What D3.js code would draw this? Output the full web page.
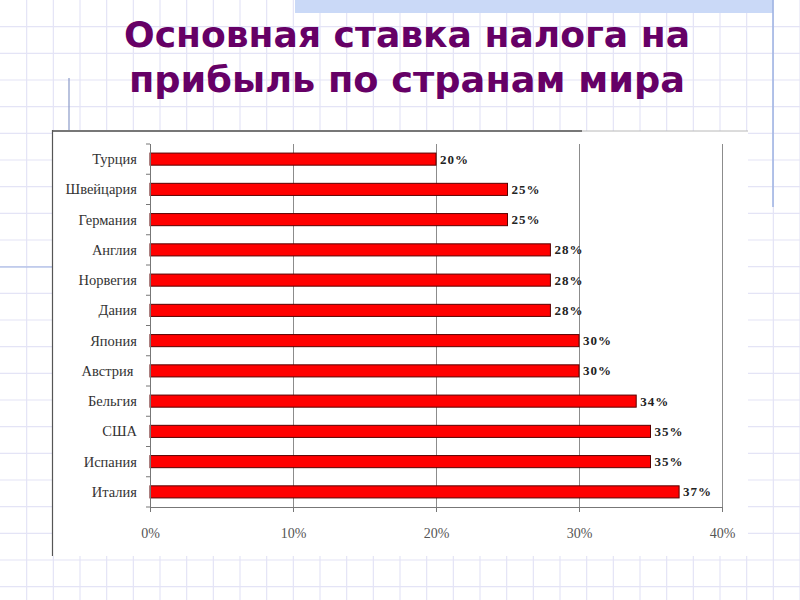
<!DOCTYPE html>
<html>
<head>
<meta charset="utf-8">
<script src="https://cdn.jsdelivr.net/npm/d3@7"></script>
<style>
  html, body { margin: 0; padding: 0; background: #fff; }
  svg { display: block; }
</style>
</head>
<body>
<svg id="chart" width="800" height="600"></svg>
<script>
// ---- data ----
const titleLines = ["Основная ставка налога на", "прибыль по странам мира"];
const countries = ["Турция", "Швейцария", "Германия", "Англия", "Норвегия", "Дания",
                   "Япония", "Австрия ", "Бельгия", "США", "Испания", "Италия"];
const rates = [0.20, 0.25, 0.25, 0.28, 0.28, 0.28, 0.30, 0.30, 0.34, 0.35, 0.35, 0.37];
const xTicks = [0, 0.1, 0.2, 0.3, 0.4];

const svg = d3.select("#chart");

// ---- slide background (grid paper) ----
const gridStep = 800 / 30;
const bg = svg.append("g");
bg.append("rect").attr("width", 800).attr("height", 600).attr("fill", "#ffffff");
bg.selectAll("line.gv").data(d3.range(1, 31)).join("line")
  .attr("x1", d => d * gridStep).attr("x2", d => d * gridStep)
  .attr("y1", 0).attr("y2", 600)
  .attr("stroke", "#e4e4f6").attr("stroke-width", 1.2);
bg.selectAll("line.gh").data(d3.range(1, 23)).join("line")
  .attr("y1", d => d * gridStep).attr("y2", d => d * gridStep)
  .attr("x1", 0).attr("x2", 800)
  .attr("stroke", "#e4e4f6").attr("stroke-width", 1.2);
// decorative slide elements
bg.append("rect").attr("x", 295).attr("y", 0).attr("width", 478).attr("height", 13).attr("fill", "#cad9f7");
bg.append("line").attr("x1", 773).attr("x2", 773).attr("y1", 0).attr("y2", 207)
  .attr("stroke", "#9db2e2").attr("stroke-width", 1.5);
bg.append("line").attr("x1", 0).attr("x2", 52).attr("y1", 267).attr("y2", 267)
  .attr("stroke", "#9db2e2").attr("stroke-width", 1.2);
bg.append("line").attr("x1", 69).attr("x2", 69).attr("y1", 78).attr("y2", 131)
  .attr("stroke", "#8a9ac8").attr("stroke-width", 1.2);

// ---- title ----
const title = svg.append("g");
title.selectAll("text").data(titleLines).join("text")
  .attr("x", 407).attr("y", (d, i) => 47 + i * 45)
  .attr("text-anchor", "middle")
  .attr("font-family", "'DejaVu Sans', Verdana, sans-serif")
  .attr("font-weight", "bold")
  .attr("font-size", 36)
  .attr("fill", "#660066")
  .attr("textLength", (d, i) => i === 0 ? 566 : 556)
  .attr("lengthAdjust", "spacingAndGlyphs")
  .text(d => d);

// ---- chart box ----
const box = svg.append("g");
box.append("rect").attr("x", 52).attr("y", 131).attr("width", 696).attr("height", 425).attr("fill", "#ffffff");
box.append("line").attr("x1", 52).attr("x2", 748).attr("y1", 131).attr("y2", 131)
  .attr("stroke", "#b8b8b8").attr("stroke-width", 1);
box.append("line").attr("x1", 52).attr("x2", 582).attr("y1", 131).attr("y2", 131)
  .attr("stroke", "#777").attr("stroke-width", 2);
box.append("line").attr("x1", 52.5).attr("x2", 52.5).attr("y1", 130).attr("y2", 556)
  .attr("stroke", "#555").attr("stroke-width", 1.2);

// ---- scales ----
const x = d3.scaleLinear().domain([0, 0.4]).range([150, 722]);
const y = d3.scaleBand().domain(countries).range([144, 507]).paddingInner(0.6).paddingOuter(0.3);

const plot = svg.append("g");

// vertical gridlines
plot.selectAll("line.grid").data(xTicks.slice(1)).join("line")
  .attr("x1", d => Math.round(x(d)) + 0.5).attr("x2", d => Math.round(x(d)) + 0.5)
  .attr("y1", 144).attr("y2", 507)
  .attr("stroke", "#8c8c8c").attr("stroke-width", 1);

// bars
plot.selectAll("rect.bar").data(countries).join("rect")
  .attr("x", x(0))
  .attr("y", d => y(d))
  .attr("width", (d, i) => x(rates[i]) - x(0))
  .attr("height", y.bandwidth())
  .attr("fill", "#ff0000")
  .attr("stroke", "#5a0000").attr("stroke-width", 1);

// value labels
plot.selectAll("text.val").data(countries).join("text")
  .attr("x", (d, i) => x(rates[i]) + 4)
  .attr("y", d => y(d) + y.bandwidth() / 2 + 4.5)
  .attr("font-family", "'Liberation Serif', 'Times New Roman', serif")
  .attr("font-weight", "bold")
  .attr("font-size", 13)
  .attr("letter-spacing", 1)
  .attr("fill", "#222")
  .text((d, i) => d3.format(".0%")(rates[i]));

// x axis (bottom)
const xAxis = d3.axisBottom(x).tickValues(xTicks).tickFormat(d3.format(".0%")).tickSize(5).tickPadding(16);
const gx = plot.append("g").attr("transform", "translate(0,507)").call(xAxis);
gx.select(".domain").attr("stroke", "#777").attr("d", `M${x(0)},0.5H${x(0.4)}`);
gx.selectAll(".tick line").attr("stroke", "#777");
gx.selectAll(".tick text")
  .attr("font-family", "'Liberation Serif', 'Times New Roman', serif")
  .attr("font-size", 14).attr("fill", "#555");

// y axis (left), ticks at category boundaries
const gy = plot.append("g").attr("transform", `translate(${x(0)},0)`);
gy.append("line").attr("x1", 0.5).attr("x2", 0.5).attr("y1", 144).attr("y2", 507)
  .attr("stroke", "#777");
const bounds = d3.range(countries.length + 1).map(i => y.range()[0] + i * y.step());
gy.selectAll("line.t").data(bounds).join("line")
  .attr("x1", -4).attr("x2", 0).attr("y1", d => d).attr("y2", d => d)
  .attr("stroke", "#777");
gy.selectAll("text.cat").data(countries).join("text")
  .attr("x", -13)
  .attr("y", d => y(d) + y.bandwidth() / 2 + 5)
  .attr("text-anchor", "end")
  .style("white-space", "pre")
  .attr("font-family", "'Liberation Serif', 'Times New Roman', serif")
  .attr("font-size", 14.5)
  .attr("fill", "#333")
  .text(d => d);
</script>
</body>
</html>
